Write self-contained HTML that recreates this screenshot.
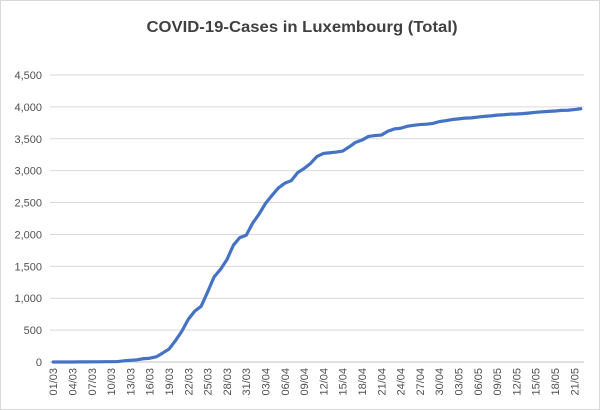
<!DOCTYPE html>
<html><head><meta charset="utf-8"><style>
html,body{margin:0;padding:0;background:#fff;}
svg{display:block;font-family:"Liberation Sans",sans-serif;}
</style></head><body>
<svg id="chart" width="600" height="410" viewBox="0 0 600 410" xmlns="http://www.w3.org/2000/svg">
<rect x="0.5" y="0.5" width="599" height="409" fill="#fff" stroke="#d9d9d9"/>
<text x="302" y="32" text-anchor="middle" font-size="16" font-weight="bold" fill="#404040" textLength="311" lengthAdjust="spacingAndGlyphs">COVID-19-Cases in Luxembourg (Total)</text>
<g id="grid"></g><g id="yticks"></g><g id="xticks"></g><g id="series"></g>
</svg>
<script>
const yTicks=[0,500,1000,1500,2000,2500,3000,3500,4000,4500];
const yTickLabels=["0","500","1,000","1,500","2,000","2,500","3,000","3,500","4,000","4,500"];
const cases=[0,0,0,0,2,2,3,3,5,5,7,19,26,34,51,59,81,140,203,335,484,670,798,875,1099,1333,1453,1605,1831,1950,1988,
2178,2319,2487,2612,2729,2804,2843,2970,3034,3115,3223,3270,3281,3292,3307,3373,3444,3480,3537,3550,3558,3618,3654,3665,3695,3711,3723,3729,3741,3769,3784,
3802,3812,3824,3828,3840,3851,3859,3871,3877,3886,3888,3894,3904,3915,3923,3930,3935,3945,3947,3958,3971];
const startDay=[1,3];
const NS="http://www.w3.org/2000/svg";
const L=50,R=584,T=75,B=362,yMax=4500;
const n=cases.length, bw=(R-L)/n;
const xS=i=>L+bw*(i+0.5);
const yS=v=>B-(v/yMax)*(B-T);
function mk(tag,attrs,parent){const e=document.createElementNS(NS,tag);for(const k in attrs)e.setAttribute(k,attrs[k]);parent.appendChild(e);return e;}
const grid=document.getElementById('grid'),yt=document.getElementById('yticks'),xt=document.getElementById('xticks'),ser=document.getElementById('series');
yTicks.forEach((v,i)=>{
  const g=mk('line',{x1:L,x2:R,y1:yS(v),y2:yS(v),stroke:v===0?'#bfbfbf':'#d9d9d9','stroke-width':1},grid);
  
  
  const t=mk('text',{x:42,y:yS(v)+4,'text-anchor':'end','font-size':11,fill:'#505050'},yt);
  t.textContent=yTickLabels[i];
  
  
});
function dateLabel(i){
  const mdays=[0,31,29,31,30,31];
  let d=startDay[0]+i,m=startDay[1];
  while(d>mdays[m]){d-=mdays[m];m++;}
  return String(d).padStart(2,'0')+'/'+String(m).padStart(2,'0');
}
for(let i=0;i<n;i+=3){
  const x=xS(i)+4;
  const t=mk('text',{x:x,y:368,'text-anchor':'end','font-size':11,fill:'#505050',transform:`rotate(-90 ${x} 368)`},xt);
  t.textContent=dateLabel(i);
  
  
}
const p=mk('path',{d:cases.map((v,i)=>(i?'L':'M')+xS(i).toFixed(2)+','+yS(v).toFixed(2)).join(''),fill:'none',stroke:'#4472c4','stroke-width':3.2,'stroke-linejoin':'round','stroke-linecap':'round'},ser);


</script>
</body></html>
